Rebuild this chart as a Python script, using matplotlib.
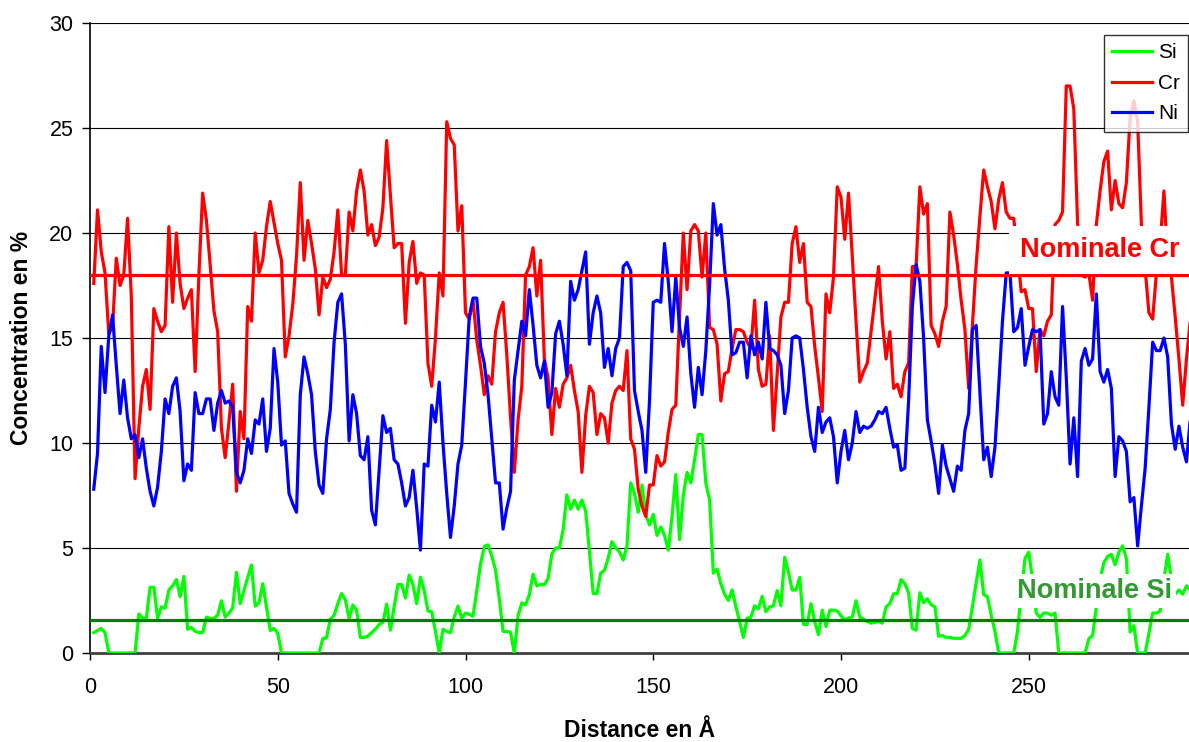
import numpy as np
import matplotlib
matplotlib.use("Agg")
import matplotlib.pyplot as plt

plt.rcParams['font.family'] = ['Liberation Sans', 'DejaVu Sans']

# Distance (Å) sample positions
distance = list(range(1, 294))

cr = [17.6, 21.1, 19.1, 18.1, 15.2, 15.5, 18.8, 17.5, 18.0, 20.7,
      17.0, 8.3, 10.7, 12.7, 13.5, 11.6, 16.4, 15.8, 15.3, 15.6,
      20.3, 16.7, 20.0, 17.6, 16.4, 16.9, 17.3, 13.4, 18.0, 21.9,
      20.6, 18.5, 16.3, 15.3, 10.7, 9.3, 11.0, 12.8, 7.7, 11.5,
      10.2, 16.5, 15.8, 20.0, 18.1, 18.7, 20.3, 21.5, 20.5, 19.5,
      18.7, 14.1, 15.1, 16.6, 18.9, 22.4, 18.7, 20.6, 19.5, 18.3,
      16.1, 17.9, 17.4, 17.8, 19.1, 21.1, 18.0, 18.0, 21.0, 20.1,
      22.0, 23.0, 22.0, 19.9, 20.4, 19.4, 19.8, 21.2, 24.4, 21.8,
      19.3, 19.5, 19.5, 15.7, 18.6, 19.6, 17.6, 18.1, 18.0, 13.8,
      12.7, 15.0, 18.1, 17.0, 25.3, 24.5, 24.2, 20.1, 21.3, 16.2,
      15.9, 16.8, 14.9, 13.7, 12.3, 13.2, 12.8, 15.3, 16.2, 16.7,
      14.2, 11.2, 8.6, 11.1, 12.7, 18.0, 18.4, 19.3, 17.0, 18.7,
      14.0, 13.1, 10.4, 12.6, 11.7, 12.8, 13.1, 13.7, 12.5, 11.5,
      8.6, 11.3, 12.7, 12.4, 10.4, 11.4, 11.2, 10.0, 11.9, 12.5,
      12.7, 12.5, 14.4, 10.2, 9.7, 7.8, 7.0, 6.5, 8.0, 8.0,
      9.4, 8.9, 9.1, 10.5, 11.6, 11.8, 16.0, 20.0, 17.3, 20.1,
      20.4, 20.1, 17.9, 20.0, 15.5, 15.4, 14.7, 12.0, 13.3, 13.4,
      14.5, 15.4, 15.4, 15.3, 14.8, 14.5, 16.8, 13.5, 12.7, 12.8,
      15.1, 10.6, 13.3, 16.0, 16.7, 16.7, 19.5, 20.3, 18.6, 19.5,
      16.7, 16.5, 14.6, 13.1, 11.5, 17.1, 16.2, 17.9, 22.2, 21.7,
      19.7, 21.9, 18.9, 15.8, 12.9, 13.4, 13.8, 15.3, 16.8, 18.4,
      15.8, 14.0, 15.3, 12.6, 12.8, 12.2, 13.4, 13.8, 18.4, 18.4,
      22.2, 20.9, 21.4, 15.6, 15.2, 14.6, 15.8, 16.5, 21.0, 19.9,
      18.5, 16.8, 15.4, 12.6, 15.6, 18.5, 20.8, 23.0, 22.2, 21.5,
      20.2, 21.6, 22.4, 21.0, 20.7, 20.7, 19.0, 17.2, 17.3, 16.4,
      16.4, 13.4, 15.4, 15.1, 15.8, 16.1, 20.4, 20.6, 21.0, 27.0,
      27.0, 25.9, 20.5, 18.0, 17.9, 18.1, 16.8, 20.4, 22.0, 23.4,
      23.9, 21.1, 22.5, 21.4, 21.2, 22.4, 25.5, 26.3, 25.3, 20.4,
      18.3, 16.2, 15.9, 18.1, 19.5, 22.0, 18.7, 17.9, 16.0, 14.0,
      11.8, 14.0, 15.8]

ni = [7.8, 9.5, 14.6, 12.4, 15.1, 16.1, 13.7, 11.4, 13.0, 11.2,
      10.2, 10.4, 9.3, 10.2, 8.8, 7.7, 7.0, 7.9, 9.6, 12.1,
      11.4, 12.7, 13.1, 11.5, 8.2, 9.0, 8.7, 12.4, 11.4, 11.4,
      12.1, 12.1, 10.6, 11.9, 12.5, 11.9, 12.0, 11.7, 8.6, 8.1,
      8.7, 10.2, 9.5, 11.1, 10.9, 12.1, 9.6, 10.7, 14.5, 12.9,
      9.9, 10.1, 7.6, 7.1, 6.7, 12.3, 14.1, 13.3, 12.3, 9.6,
      8.0, 7.6, 10.2, 11.6, 14.8, 16.7, 17.1, 14.7, 10.1, 12.3,
      11.4, 9.4, 9.2, 10.3, 6.8, 6.1, 8.7, 11.3, 10.5, 10.7,
      9.2, 9.0, 8.1, 7.0, 7.4, 8.7, 6.9, 4.9, 9.0, 8.9,
      11.8, 11.0, 12.9, 10.0, 7.6, 5.5, 7.0, 9.0, 9.9, 12.9,
      16.0, 16.9, 16.9, 14.6, 13.8, 12.3, 10.2, 8.1, 8.1, 5.9,
      6.9, 7.7, 13.0, 14.4, 15.8, 15.1, 17.3, 15.6, 13.7, 13.1,
      13.9, 11.7, 12.4, 15.2, 15.8, 14.7, 13.2, 17.7, 16.8, 17.3,
      18.2, 19.1, 14.7, 16.2, 17.0, 16.2, 13.6, 14.5, 13.2, 14.5,
      15.0, 18.4, 18.6, 18.2, 12.5, 11.5, 10.6, 8.6, 12.0, 16.7,
      16.8, 16.7, 19.5, 17.7, 15.3, 17.9, 15.5, 14.6, 16.0, 13.3,
      11.7, 13.6, 12.3, 14.4, 17.5, 21.4, 19.9, 20.4, 18.3, 16.8,
      14.2, 14.3, 14.8, 14.8, 13.1, 15.1, 14.2, 14.8, 14.0, 16.7,
      14.5, 14.4, 14.2, 13.7, 11.4, 12.5, 15.0, 15.1, 15.0, 13.5,
      11.7, 10.3, 9.6, 11.7, 10.5, 11.0, 11.2, 10.3, 8.1, 9.6,
      10.6, 9.2, 10.0, 11.5, 10.5, 10.8, 10.7, 10.8, 11.1, 11.5,
      11.4, 11.7, 10.7, 9.8, 9.9, 8.7, 8.8, 12.0, 16.5, 18.5,
      17.7, 15.0, 11.1, 10.1, 9.0, 7.6, 9.9, 8.9, 8.3, 7.7,
      8.9, 8.7, 10.6, 11.4, 15.4, 15.6, 12.4, 9.2, 9.8, 8.4,
      9.8, 12.7, 15.8, 18.1, 18.1, 15.3, 15.5, 16.4, 13.7, 14.6,
      15.4, 15.3, 15.4, 10.9, 11.4, 13.4, 12.2, 11.8, 16.5, 13.1,
      9.0, 11.2, 8.4, 13.9, 14.5, 13.7, 14.0, 17.1, 13.4, 12.9,
      13.5, 12.6, 8.4, 10.3, 10.1, 9.6, 7.2, 7.4, 5.1, 7.0,
      8.8, 11.7, 14.8, 14.4, 14.4, 15.0, 14.1, 10.9, 9.7, 10.8,
      9.8, 9.1, 11.1]

si = [0.97, 1.07, 1.17, 0.97, 0.0, 0.0, 0.0, 0.0, 0.0, 0.0,
      0.0, 0.0, 1.86, 1.65, 1.65, 3.13, 3.13, 1.65, 2.2, 2.14,
      3.0, 3.2, 3.5, 2.68, 3.65, 1.13, 1.22, 1.03, 0.97, 0.97,
      1.71, 1.65, 1.65, 1.8, 2.49, 1.71, 1.9, 2.14, 3.84, 2.35,
      2.97, 3.6, 4.19, 2.23, 2.39, 3.3, 2.2, 1.07, 1.17, 0.93,
      0.0, 0.0, 0.0, 0.0, 0.0, 0.0, 0.0, 0.0, 0.0, 0.0,
      0.0, 0.68, 0.74, 1.61, 1.8, 2.35, 2.83, 2.54, 1.65, 2.29,
      2.04, 0.74, 0.74, 0.8, 0.97, 1.13, 1.36, 1.46, 2.33, 1.09,
      2.2, 3.26, 3.26, 2.62, 3.71, 3.26, 2.35, 3.61, 2.97, 2.0,
      1.96, 1.03, 0.0, 1.13, 1.03, 0.97, 1.71, 2.23, 1.65, 1.9,
      1.84, 1.75, 2.97, 4.23, 5.07, 5.15, 4.62, 3.94, 2.58, 1.03,
      1.03, 0.99, 0.0, 1.77, 2.39, 2.29, 2.78, 3.75, 3.2, 3.26,
      3.26, 3.55, 4.72, 5.0, 5.0, 5.88, 7.53, 6.85, 7.28, 6.85,
      7.28, 6.76, 4.85, 2.83, 2.83, 3.8, 3.94, 4.52, 5.3, 5.0,
      4.82, 4.43, 5.1, 8.1, 7.6, 6.7, 8.0, 6.6, 6.1, 6.6,
      5.6, 6.0, 5.6, 4.9, 6.5, 8.5, 5.4, 7.5, 8.6, 8.1,
      9.2, 10.4, 10.4, 8.1, 7.3, 3.8, 4.0, 3.3, 2.8, 2.5,
      3.0, 2.2, 1.5, 0.74, 1.65, 1.7, 2.25, 2.1, 2.7, 1.96,
      2.2, 2.25, 2.97, 2.25, 4.56, 3.84, 3.0, 3.0, 3.6, 1.36,
      1.36, 2.35, 1.5, 0.87, 2.04, 1.26, 2.04, 2.04, 2.0, 1.77,
      1.57, 1.67, 1.71, 2.49, 1.71, 1.61, 1.5, 1.42, 1.46, 1.5,
      1.42, 2.2, 2.35, 2.82, 2.82, 3.5, 3.3, 2.87, 1.17, 1.09,
      2.87, 2.39, 2.58, 2.29, 2.2, 0.8, 0.83, 0.74, 0.74, 0.7,
      0.7, 0.7, 0.83, 1.13, 2.2, 3.36, 4.43, 2.78, 2.68, 1.8,
      1.03, 0.0, 0.0, 0.0, 0.0, 0.0, 1.03, 2.8, 4.5, 4.8,
      3.5, 1.9, 1.7, 1.9, 1.9, 1.8, 1.9, 0.0, 0.0, 0.0,
      0.0, 0.0, 0.0, 0.0, 0.0, 0.68, 0.83, 2.2, 3.5, 4.3,
      4.6, 4.7, 4.2, 4.8, 5.1, 4.5, 1.0, 1.3, 0.0, 0.0,
      0.0, 0.93, 1.9, 1.9, 2.0, 3.5, 4.7, 3.5, 2.8, 3.0,
      2.8, 3.2, 3.0]

nominal_cr = 18.0
nominal_si = 1.55

x_ticks = [0, 50, 100, 150, 200, 250]
y_ticks = [0, 5, 10, 15, 20, 25, 30]

W, H = 1189, 742
fig = plt.figure(figsize=(W / 100, H / 100), dpi=100)
ax = fig.add_axes([90 / W, 89 / H, 1099 / W, 630 / H])

ax.set_xlim(0, 1099 / 3.755)
ax.set_ylim(0, 30)

ax.yaxis.grid(True, color='black', linewidth=0.8, zorder=0)
ax.set_axisbelow(True)

ax.plot(distance, si, color='#00ff00', lw=2.3, label='Si', zorder=3)
ax.plot(distance, cr, color='#ff0000', lw=2.3, label='Cr', zorder=3)
ax.plot(distance, ni, color='#0000ff', lw=2.3, label='Ni', zorder=3)

ax.axhline(nominal_cr, color='#ff0000', lw=2.3, zorder=4)
ax.axhline(nominal_si, color='#008000', lw=2.3, zorder=4)

ax.text(269.0, 19.2, 'Nominale Cr', color='#ff0000', fontsize=19.5,
        fontweight='bold', ha='center', va='center', zorder=6,
        bbox=dict(facecolor='white', edgecolor='none', pad=8))
ax.text(267.6, 2.95, 'Nominale Si', color='#339933', fontsize=19.5,
        fontweight='bold', ha='center', va='center', zorder=6,
        bbox=dict(facecolor='white', edgecolor='none', pad=3))

ax.set_xticks(x_ticks)
ax.set_yticks(y_ticks)
ax.tick_params(axis='both', labelsize=15.5, colors='black', direction='out')
ax.tick_params(axis='y', length=6, width=1, pad=6)
ax.tick_params(axis='x', length=5, width=1, pad=12)

for s in ['right', 'top']:
    ax.spines[s].set_visible(False)
ax.spines['left'].set_color('black')
ax.spines['left'].set_linewidth(1.2)
ax.spines['bottom'].set_color('#404040')
ax.spines['bottom'].set_linewidth(2)

ax.set_xlabel('Distance en Å', fontsize=16.5, fontweight='bold')
ax.set_ylabel('Concentration en %', fontsize=16.5, fontweight='bold')
ax.xaxis.set_label_coords(0.5, -0.105)
ax.yaxis.set_label_coords(-0.052, 0.5)

leg = ax.legend(loc='upper right', bbox_to_anchor=(1 - 1 / 1099, (653 - 35) / 630),
                borderaxespad=0, fontsize=15, frameon=True, fancybox=False,
                handlelength=1.9, handletextpad=0.3, borderpad=0.4,
                labelspacing=0.55, edgecolor='black')
leg.get_frame().set_linewidth(1.0)
leg.set_zorder(7)

fig.savefig('out.png', dpi=100)
